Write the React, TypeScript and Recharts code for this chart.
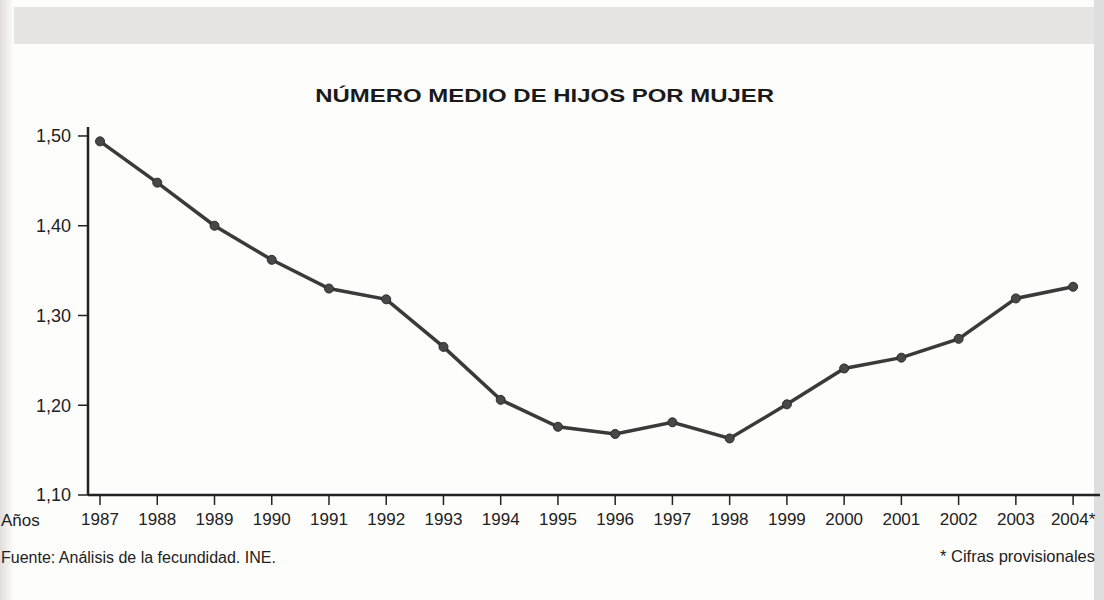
import React from "react";
import { LineChart, Line, XAxis, YAxis } from "recharts";

// Años (el último es provisional)
const YEARS = [
  "1987", "1988", "1989", "1990", "1991", "1992", "1993", "1994", "1995",
  "1996", "1997", "1998", "1999", "2000", "2001", "2002", "2003", "2004*",
];

// Número medio de hijos por mujer
const HIJOS = [
  1.494, 1.448, 1.4, 1.362, 1.33, 1.318, 1.265, 1.206, 1.176,
  1.168, 1.181, 1.163, 1.201, 1.241, 1.253, 1.274, 1.319, 1.332,
];

const Y_TICKS = [1.1, 1.2, 1.3, 1.4, 1.5];

const FONT = "'Liberation Sans', Arial, Helvetica, sans-serif";
const INK = "#222";

const data = YEARS.map((year, i) => ({ x: i, year, value: HIJOS[i] }));

const fmtY = (v: number) => v.toFixed(2).replace(".", ",");

export default function App() {
  return (
    <div
      style={{
        position: "absolute",
        left: 0,
        top: 0,
        width: 1104,
        height: 600,
        background: "#fdfdfc",
        overflow: "hidden",
        fontFamily: FONT,
      }}
    >
      {/* bordes grises del escaneo */}
      <div style={{ position: "absolute", left: 0, top: 7, width: 1104, height: 37, background: "#e8e4e4" }} />
      <div
        style={{
          position: "absolute",
          left: 0,
          top: 0,
          width: 14,
          height: 600,
          background: "linear-gradient(to right, #e2dcdc, #fdfdfc)",
        }}
      />
      <div style={{ position: "absolute", left: 1094, top: 0, width: 10, height: 600, background: "#dedede" }} />

      <div
        style={{
          position: "absolute",
          left: 0,
          width: 1089,
          top: 86,
          textAlign: "center",
          fontWeight: "bold",
          fontSize: 18,
          lineHeight: "21px",
          color: "#1a1a1a",
          transform: "scaleX(1.33)",
          transformOrigin: "544px 50%",
        }}
      >
        NÚMERO MEDIO DE HIJOS POR MUJER
      </div>

      <div style={{ position: "absolute", left: 0, top: 0 }}>
        <LineChart width={1104} height={600} data={data} margin={{ top: 127, right: 4, bottom: 75, left: 0 }}>
          <XAxis
            dataKey="x"
            type="number"
            domain={[-0.21, 17.47]}
            ticks={data.map((d) => d.x)}
            tickFormatter={(i: number) => YEARS[i]}
            interval={0}
            height={30}
            tickSize={10}
            tickMargin={8}
            axisLine={{ stroke: INK, strokeWidth: 2.5 }}
            tickLine={{ stroke: INK, strokeWidth: 1.5 }}
            tick={{ fill: INK, fontSize: 17, fontFamily: FONT }}
          />
          <YAxis
            type="number"
            domain={[1.1, 1.51]}
            ticks={Y_TICKS}
            tickFormatter={fmtY}
            width={88}
            tickSize={10}
            tickMargin={7}
            axisLine={{ stroke: INK, strokeWidth: 2.5 }}
            tickLine={{ stroke: INK, strokeWidth: 1.5 }}
            tick={{ fill: INK, fontSize: 18, fontFamily: FONT }}
          />
          <Line
            dataKey="value"
            type="linear"
            stroke="#3a3a3a"
            strokeWidth={3.5}
            dot={{ r: 4.5, fill: "#484848", stroke: "#2a2a2a", strokeWidth: 1 }}
            isAnimationActive={false}
          />
        </LineChart>
      </div>

      <div style={{ position: "absolute", left: 1, top: 511, fontSize: 17, color: INK }}>Años</div>
      <div style={{ position: "absolute", left: 1, top: 549, fontSize: 16, color: INK }}>
        Fuente: Análisis de la fecundidad. INE.
      </div>
      <div style={{ position: "absolute", right: 9, top: 547, fontSize: 16.5, color: INK }}>
        * Cifras provisionales
      </div>
    </div>
  );
}
